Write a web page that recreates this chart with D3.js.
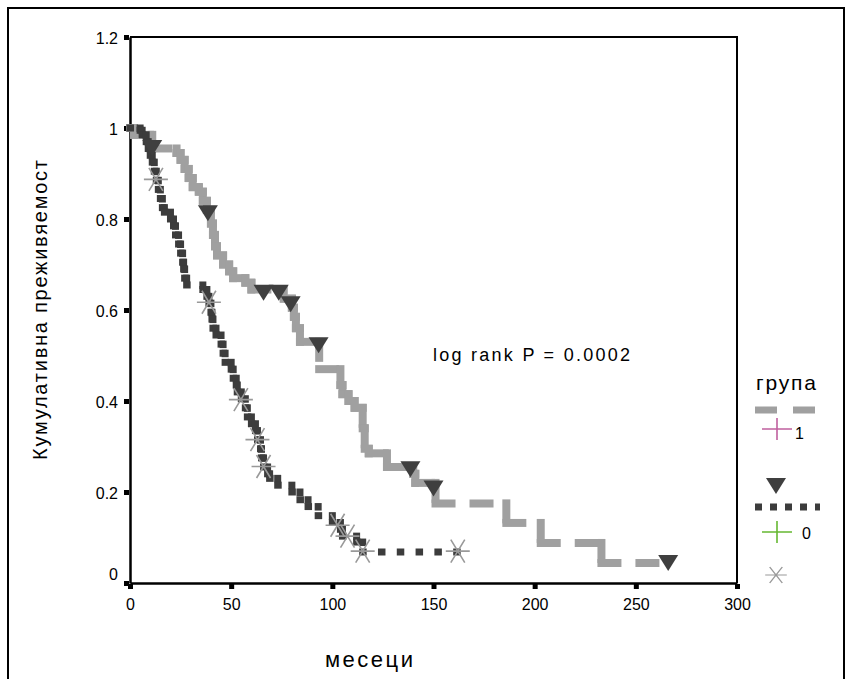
<!DOCTYPE html>
<html>
<head>
  <meta charset="UTF-8">
  <style>
    body { margin: 0; background: #fff; }
    text { font-family: "Liberation Sans", Arial, sans-serif; fill: #000; }
  </style>
</head>
<body>
  <svg id="chart" width="845" height="679"></svg>
  <script src="https://d3js.org/d3.v7.min.js"></script>
  <script>
    // group 1 (gray): [time, survival after the drop]
    const group1Steps = [[0,1],[2,0.985],[11,0.955],[23,0.945],[25,0.93],[27,0.91],[29,0.89],[31,0.87],[34,0.86],
      [36,0.84],[38,0.82],[40,0.79],[41,0.765],[42,0.74],[43,0.72],[46,0.70],[49,0.685],[51,0.67],[57,0.66],
      [60,0.645],[76,0.625],[80,0.605],[81,0.585],[82,0.56],[84,0.53],[93.5,0.47],[104,0.435],[105,0.415],
      [108,0.4],[111,0.385],[115,0.34],[116,0.295],[118,0.285],[127,0.255],[140,0.24],[141,0.22],[151,0.175],
      [186,0.132],[203,0.088],[233,0.044]];
    const group1End = 266;
    const group1Censored = [[11,0.958],[38.5,0.815],[66,0.64],[73.5,0.64],[79.4,0.615],[93.2,0.525],
      [138.6,0.252],[150,0.21],[266,0.046]];

    // group 0 (dark)
    const group0Steps = [[0,1],[5,0.995],[6,0.985],[8,0.97],[9,0.955],[10,0.94],[11,0.925],[12,0.905],[13,0.885],
      [14,0.865],[15,0.845],[16,0.825],[17,0.815],[20,0.80],[21.5,0.785],[22.5,0.765],[24,0.745],[25,0.725],
      [26,0.705],[26.5,0.69],[27,0.67],[28,0.655],[36,0.645],[38,0.63],[39,0.615],[40,0.595],[40.5,0.58],
      [41,0.56],[42.5,0.545],[45,0.525],[46,0.505],[47,0.485],[50,0.47],[51,0.45],[52.5,0.435],[53,0.42],
      [55,0.405],[57,0.385],[58,0.365],[60,0.35],[62,0.335],[63,0.315],[64.5,0.295],[65,0.275],[66,0.255],
      [68,0.24],[69,0.23],[73,0.215],[80,0.2],[84,0.183],[88,0.168],[93,0.148],[100,0.133],[104,0.118],
      [105,0.103],[112,0.09],[115,0.068]];
    const group0End = 162;
    const group0Censored = [[12.8,0.887],[39,0.617],[54.8,0.403],[63,0.315],[66,0.256],[102.6,0.127],
      [107.5,0.103],[115,0.07],[162,0.07]];

    const xTicks = [0, 50, 100, 150, 200, 250, 300];
    const yTicks = [0, 0.2, 0.4, 0.6, 0.8, 1, 1.2];
    const legendTitle = "група";
    const legendLabels = ["1", "0"];
    const annotation = "log rank P = 0.0002";
    const xTitle = "месеци";
    const yTitle = "Кумулативна преживяемост";

    const svg = d3.select("#chart");
    const x = d3.scaleLinear().domain([0, 300]).range([130, 737]);
    const y = d3.scaleLinear().domain([0, 1.2]).range([583, 37]);

    // outer frame
    svg.append("rect").attr("x", 8).attr("y", 8).attr("width", 836).attr("height", 680)
      .attr("fill", "none").attr("stroke", "#000").attr("stroke-width", 2);

    // plot box
    svg.append("path")
      .attr("d", `M${x(0)},${y(1.2)}H${x(300)}V${y(0)}`)
      .attr("fill", "none").attr("stroke", "#000").attr("stroke-width", 2);

    // axes
    const xAxis = svg.append("g").attr("transform", `translate(0,${y(0)})`)
      .call(d3.axisBottom(x).tickValues(xTicks).tickSize(0).tickFormat(d3.format("d")));
    xAxis.select(".domain").attr("stroke-width", 2.5);
    xAxis.selectAll(".tick text").attr("dy", 0).attr("y", 27).style("font-size", "16px")
      .style("font-family", "Liberation Sans, Arial, sans-serif");
    xAxis.selectAll(".tick").append("rect").attr("x", -2.5).attr("y", 1).attr("width", 5).attr("height", 5).attr("fill", "#000");

    const yAxis = svg.append("g").attr("transform", `translate(${x(0)},0)`)
      .call(d3.axisLeft(y).tickValues(yTicks).tickSize(0).tickFormat(d => d3.format("")(+d.toFixed(1))));
    yAxis.select(".domain").attr("stroke-width", 2.5);
    yAxis.selectAll(".tick text").attr("x", -12).attr("dy", d => d === 0 ? "-0.25em" : "0.4em")
      .style("font-size", "16px").style("font-family", "Liberation Sans, Arial, sans-serif");
    yAxis.selectAll(".tick").append("rect").attr("x", -6).attr("y", -2.5).attr("width", 5).attr("height", 5).attr("fill", "#000");

    // step segments, each one dashed on its own
    function segments(steps, end) {
      const segs = [];
      for (let i = 0; i < steps.length; i++) {
        const [t, s] = steps[i];
        if (i > 0) segs.push([[t, steps[i - 1][1]], [t, s]]);
        const tNext = i + 1 < steps.length ? steps[i + 1][0] : end;
        if (tNext > t) segs.push([[t, s], [tNext, s]]);
      }
      return segs;
    }
    const line = d3.line().x(d => x(d[0])).y(d => y(d[1]));

    svg.append("g").selectAll("path").data(segments(group1Steps, group1End)).join("path")
      .attr("d", line).attr("fill", "none").attr("stroke", "#a0a0a0").attr("stroke-width", 8)
      .attr("stroke-linecap", "square").attr("stroke-dasharray", "16,22");

    svg.append("g").selectAll("path").data(segments(group0Steps, group0End)).join("path")
      .attr("d", line).attr("fill", "none").attr("stroke", "#3c3c3c").attr("stroke-width", 7)
      .attr("stroke-linecap", "square").attr("stroke-dasharray", "0.5,18.3");

    // censor marks
    const triangle = "M-10,-7L10,-7L0,9Z";
    svg.append("g").selectAll("path").data(group1Censored).join("path")
      .attr("transform", d => `translate(${x(d[0])},${y(d[1])})`)
      .attr("d", triangle).attr("fill", "#3f3f3f");

    const asterisk = "M-12,0H12M-7,-11.5L7,11.5M-7,11.5L7,-11.5";
    svg.append("g").selectAll("path").data(group0Censored).join("path")
      .attr("transform", d => `translate(${x(d[0])},${y(d[1])})`)
      .attr("d", asterisk).attr("fill", "none").attr("stroke", "#999").attr("stroke-width", 1.6);

    // texts
    svg.append("text").attr("x", 433).attr("y", 361).attr("textLength", 197).attr("lengthAdjust", "spacing")
      .style("font-size", "18px").text(annotation);
    svg.append("text").attr("x", 369).attr("y", 667).attr("text-anchor", "middle").attr("textLength", 88)
      .attr("lengthAdjust", "spacing").style("font-size", "22px").text(xTitle);
    svg.append("text").attr("transform", "translate(47,310) rotate(-90)").attr("text-anchor", "middle")
      .attr("textLength", 300).attr("lengthAdjust", "spacing").style("font-size", "20px").text(yTitle);

    // legend
    const lg = svg.append("g");
    lg.append("text").attr("x", 786).attr("y", 390).attr("text-anchor", "middle").attr("textLength", 60)
      .attr("lengthAdjust", "spacing").style("font-size", "21px").text(legendTitle);
    lg.append("line").attr("x1", 755).attr("x2", 819).attr("y1", 410).attr("y2", 410)
      .attr("stroke", "#a0a0a0").attr("stroke-width", 7).attr("stroke-dasharray", "22,16");
    lg.append("path").attr("d", "M762,429H792M777,418V440").attr("stroke", "#c0609f").attr("stroke-width", 1.6);
    lg.append("text").attr("x", 795).attr("y", 439).style("font-size", "16px").text(legendLabels[0]);
    lg.append("path").attr("transform", "translate(776,485)").attr("d", triangle).attr("fill", "#3f3f3f");
    lg.append("line").attr("x1", 755).attr("x2", 820).attr("y1", 507).attr("y2", 507)
      .attr("stroke", "#3c3c3c").attr("stroke-width", 7).attr("stroke-dasharray", "7,8");
    lg.append("path").attr("d", "M762,532H792M777,521V543").attr("stroke", "#66b832").attr("stroke-width", 1.6);
    lg.append("text").attr("x", 802).attr("y", 539).style("font-size", "16px").text(legendLabels[1]);
    lg.append("path").attr("transform", "translate(776,575) scale(0.9,0.7)").attr("d", asterisk)
      .attr("fill", "none").attr("stroke", "#999").attr("stroke-width", 1.6);
  </script>
</body>
</html>
